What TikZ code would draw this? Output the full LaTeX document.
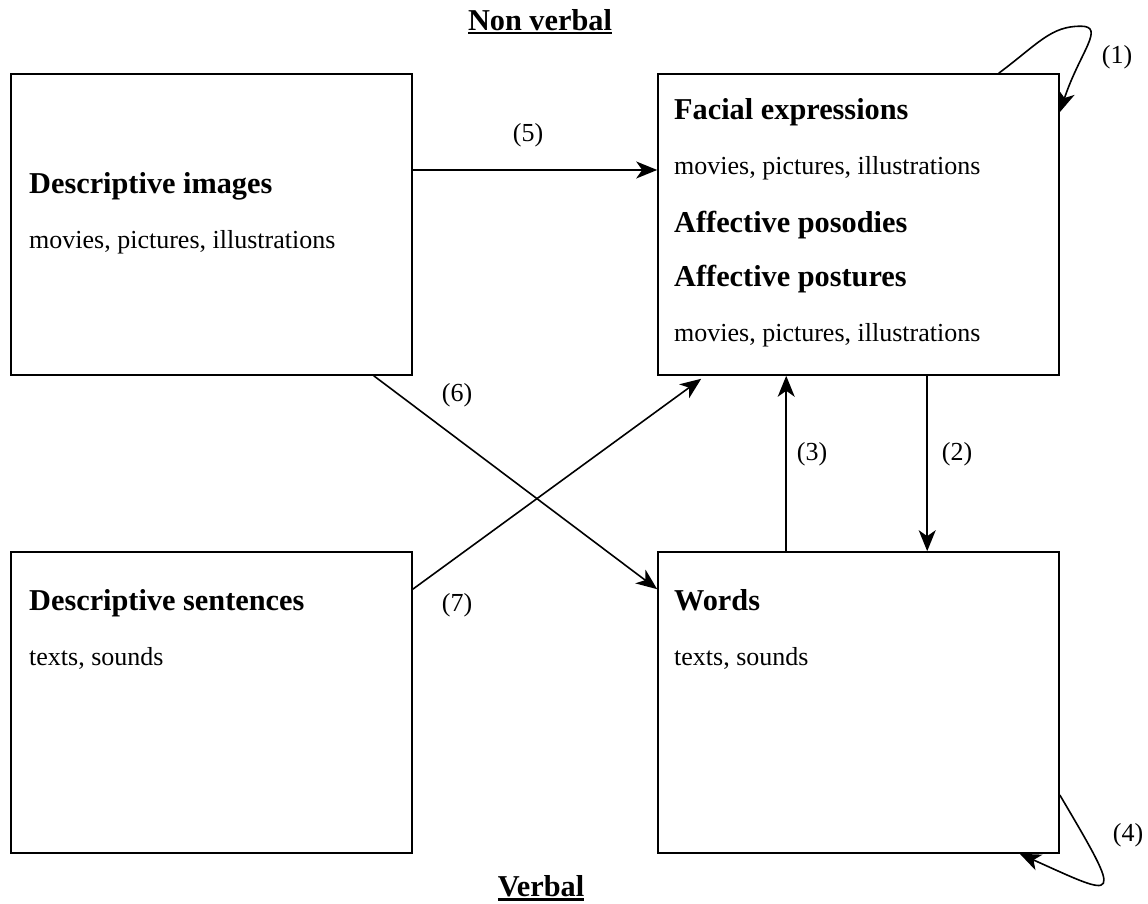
\documentclass[tikz,border=0pt]{standalone}
\usepackage{fontspec}
\setmainfont{Liberation Serif}
\usetikzlibrary{arrows.meta}

% bold text with a thick rule just under the baseline
\newcommand{\ulbold}[1]{\setbox0=\hbox{\bfseries #1}\rlap{\vrule width\wd0 height -1.5pt depth 3.8pt}\box0}

\begin{document}
\begin{tikzpicture}[x=1pt,y=1pt,
  box/.style={draw, line width=1.6pt, minimum width=401pt, minimum height=301pt, inner sep=0pt},
  head/.style={anchor=base west, inner sep=0pt, font=\fontsize{30.3}{36}\selectfont\bfseries},
  body/.style={anchor=base west, inner sep=0pt, font=\fontsize{26}{31}\selectfont},
  title/.style={anchor=base, inner sep=0pt, font=\fontsize{30.3}{36}\selectfont},
  lbl/.style={inner sep=0pt, font=\fontsize{26}{31}\selectfont},
  conn/.style={line width=1.6pt, -{Stealth[length=21pt,width=17pt,inset=6pt]}},
]
\useasboundingbox (0,0) rectangle (1148,904);

% the four boxes
\node[box] (desimg)  at (211.5,679.5) {};
\node[box] (facial)  at (858.5,679.5) {};
\node[box] (dessent) at (211.5,201.5) {};
\node[box] (words)   at (858.5,201.5) {};

% titles
\node[title] (nonverbal) at (540,873.5) {\ulbold{Non verbal}};
\node[title] (verbal)    at (541,7)     {\ulbold{Verbal}};

% box contents
\node[head] (t1) at (29,710.7) {Descriptive images};
\node[body] (t2) at (29,655.7) {movies, pictures, illustrations};

\node[head] (f1) at (674,784)   {Facial expressions};
\node[body] (f2) at (674,729)   {movies, pictures, illustrations};
\node[head] (f3) at (674,671.3) {Affective posodies};
\node[head] (f4) at (674,617.3) {Affective postures};
\node[body] (f5) at (674,562.3) {movies, pictures, illustrations};

\node[head] (s1) at (29,293) {Descriptive sentences};
\node[body] (s2) at (29,238) {texts, sounds};

\node[head] (w1) at (674,293) {Words};
\node[body] (w2) at (674,238) {texts, sounds};

% connectors
\draw[conn] ([yshift=54.5pt]desimg.east) -- ([yshift=54.5pt]facial.west);
\draw[conn] ([xshift=-39pt]desimg.south east) -- ([yshift=-38pt]words.north west);
\draw[conn] ([yshift=-38pt]dessent.north east) -- ([xshift=44pt,yshift=-3pt]facial.south west);
\draw[conn] ([xshift=129pt]words.north west) -- ([xshift=129pt]facial.south west);
\draw[conn] ([xshift=270pt]facial.south west) -- ([xshift=270pt]words.north west);
% self loops
\draw[conn] ([xshift=-61pt]facial.north east) .. controls +(40,30) and +(-30,0) .. ++(82,47)
  .. controls +(25,0) and +(20,60) .. ([yshift=-39pt]facial.north east);
\draw[conn] ([yshift=-92.5pt]words.east) .. controls +(65,-110) and +(100,-45) .. ([xshift=-40pt]words.south east);

% connector labels
\node[lbl] (l1) at (1117,847) {(1)};
\node[lbl] (l2) at (957,450)  {(2)};
\node[lbl] (l3) at (812,450)  {(3)};
\node[lbl] (l4) at (1128,69)  {(4)};
\node[lbl] (l5) at (528,769)  {(5)};
\node[lbl] (l6) at (457,509)  {(6)};
\node[lbl] (l7) at (457,299)  {(7)};
\end{tikzpicture}
\end{document}
